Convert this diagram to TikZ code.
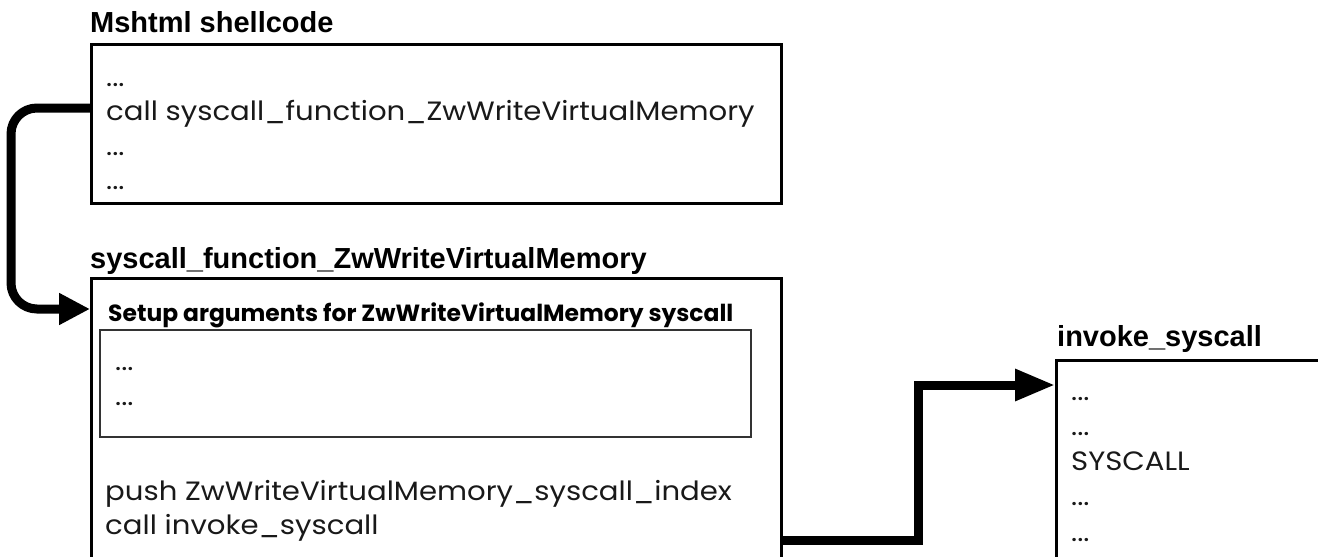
\documentclass[tikz,border=0pt]{standalone}
\usepackage{fontspec}
\setmainfont{Poppins}
\newfontfamily\bodyfont{Poppins}[FakeStretch=1.1]
\newfontfamily\titlefont{Liberation Sans}
\usetikzlibrary{arrows.meta}
\begin{document}
\begin{tikzpicture}[x=1pt,y=-1pt,
  box/.style={draw=black,line width=3pt,inner sep=0pt,anchor=north west},
  innerbox/.style={draw=black!80,line width=1.5pt,inner sep=0pt,anchor=north west},
  ttl/.style={anchor=base west,inner sep=0pt,font=\titlefont\bfseries\fontsize{29}{32}\selectfont},
  body/.style={anchor=base west,inner sep=0pt,font=\bodyfont\fontsize{26.5}{30}\selectfont,text=black!90},
  sub/.style={anchor=base west,inner sep=0pt,font=\bfseries\fontsize{23.4}{27}\selectfont},
  conn/.style={line width=9pt}]
\clip (0,0) rectangle (1318,557);
\fill[white] (0,0) rectangle (1318,557);
% titles
\node[ttl] (t1) at (90,32) {Mshtml shellcode};
\node[ttl] (t2) at (90,268) {syscall\_function\_ZwWriteVirtualMemory};
\node[ttl] (t3) at (1057,346) {invoke\_syscall};
% boxes
\node[box,minimum width=690pt,minimum height=159pt] (b1) at (90,43) {};
\node[box,minimum width=690pt,minimum height=320pt] (b2) at (90,277) {};
\node[innerbox,minimum width=651pt,minimum height=107pt] (b2i) at (99,329) {};
\node[box,minimum width=320pt,minimum height=260pt] (b3) at (1055,359) {};
% box 1 text
\node[body] (l1a) at (106,86) {...};
\node[body] (l1b) at (106,120) {call syscall\_function\_ZwWriteVirtualMemory};
\node[body] (l1c) at (106,155) {...};
\node[body] (l1d) at (106,189) {...};
% box 2 text
\node[sub] (s2) at (108,321) {Setup arguments for ZwWriteVirtualMemory syscall};
\node[body] (l2a) at (115,370) {...};
\node[body] (l2b) at (115,405) {...};
\node[body] (l2c) at (105,500) {push ZwWriteVirtualMemory\_syscall\_index};
\node[body] (l2d) at (105,534) {call invoke\_syscall};
% box 3 text
\node[body] (l3a) at (1071,400) {...};
\node[body] (l3b) at (1071,435) {...};
\node[body] (l3c) at (1071,470) {SYSCALL};
\node[body] (l3d) at (1071,505) {...};
\node[body] (l3e) at (1071,541) {...};
% connectors
\coordinate (a1s) at ([yshift=-65pt]b1.north west);
\coordinate (a1e) at ([yshift=-32pt]b2.north west);
\draw[conn,rounded corners=26pt,-{Triangle[length=31pt,width=30pt]}]
  (a1s) -- (a1s -| 11,0) -- (a1e -| 11,0) -- (a1e);
\coordinate (a2s) at ([yshift=-263pt]b2.north east);
\coordinate (a2e) at ([yshift=-26pt]b3.north west);
\draw[conn,-{Triangle[length=40pt,width=30pt]}]
  (a2s) -- (918,0 |- a2s) -- (918,0 |- a2e) -- (a2e);
\end{tikzpicture}
\end{document}
